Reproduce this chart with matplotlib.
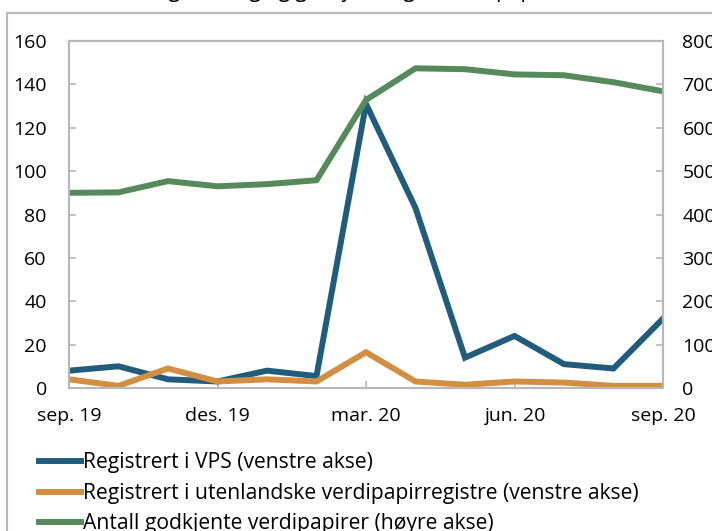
import matplotlib.pyplot as plt
from matplotlib.lines import Line2D

plt.rcParams['font.family'] = ['Open Sans', 'DejaVu Sans']

months = ['sep. 19', 'okt. 19', 'nov. 19', 'des. 19', 'jan. 20', 'feb. 20', 'mar. 20',
          'apr. 20', 'mai. 20', 'jun. 20', 'jul. 20', 'aug. 20', 'sep. 20']
vps = [8, 10, 4, 3, 8, 5.5, 131, 83, 14, 24, 11, 9, 32]
utenlandske = [4, 1, 9, 3, 4, 3, 16.5, 3, 1.5, 3, 2.5, 1, 1]
godkjente = [450, 451, 477, 465, 470, 479, 664, 737, 735, 723, 721, 705, 684]
tick_idx = [0, 3, 6, 9, 12]

blue = '#225c7c'
orange = '#d38f41'
green = '#568a5d'
grey = '#b8b8b8'

fig = plt.figure(figsize=(7.12, 5.31), dpi=100)
ax = fig.add_axes([69 / 712, 1 - 388 / 531, (663 - 69) / 712, (388 - 41) / 531])
ax2 = ax.twinx()

x = list(range(len(months)))
ax.plot(x, vps, color=blue, lw=4.3, solid_joinstyle='miter', zorder=3)
ax.plot(x, utenlandske, color=orange, lw=4.3, solid_joinstyle='miter', zorder=3)
ax2.plot(x, godkjente, color=green, lw=4.3, solid_joinstyle='miter')

ax.set_xlim(0, 12)
ax.set_ylim(0, 160)
ax2.set_ylim(0, 800)
ax.set_yticks(range(0, 161, 20))
ax2.set_yticks(range(0, 801, 100))
ax.set_xticks(tick_idx)
ax.set_xticklabels([months[i] for i in tick_idx])

for a in (ax, ax2):
    for s in a.spines.values():
        s.set_color(grey)
        s.set_linewidth(1.5)
    a.tick_params(direction='in', length=5, width=1.2, color=grey, labelsize=14)
ax.tick_params(axis='y', pad=16)
ax2.tick_params(axis='y', pad=14)
ax.tick_params(axis='x', pad=14)

# frame of the surrounding panel
fig.add_artist(Line2D([7 / 712, 7 / 712], [0, 1 - 13 / 531], color=grey, lw=1.5))
fig.add_artist(Line2D([7 / 712, 1], [1 - 13 / 531, 1 - 13 / 531], color=grey, lw=1.5))
fig.text(0.5, 1 + 2.5 / 531, 'Registrering og godkjenning av verdipapirer',
         ha='center', va='baseline', fontsize=15)

handles = [Line2D([], [], color=blue, lw=4.3),
           Line2D([], [], color=orange, lw=4.3),
           Line2D([], [], color=green, lw=4.3)]
labels = ['Registrert i VPS (venstre akse)',
          'Registrert i utenlandske verdipapirregistre (venstre akse)',
          'Antall godkjente verdipapirer (høyre akse)']
fig.legend(handles, labels, loc='upper left', bbox_to_anchor=(31 / 712, 1 - 444 / 531),
           frameon=False, fontsize=15.2, handlelength=1.95, handletextpad=0.12,
           labelspacing=0.45, borderaxespad=0)

fig.savefig('out.png', dpi=100)
